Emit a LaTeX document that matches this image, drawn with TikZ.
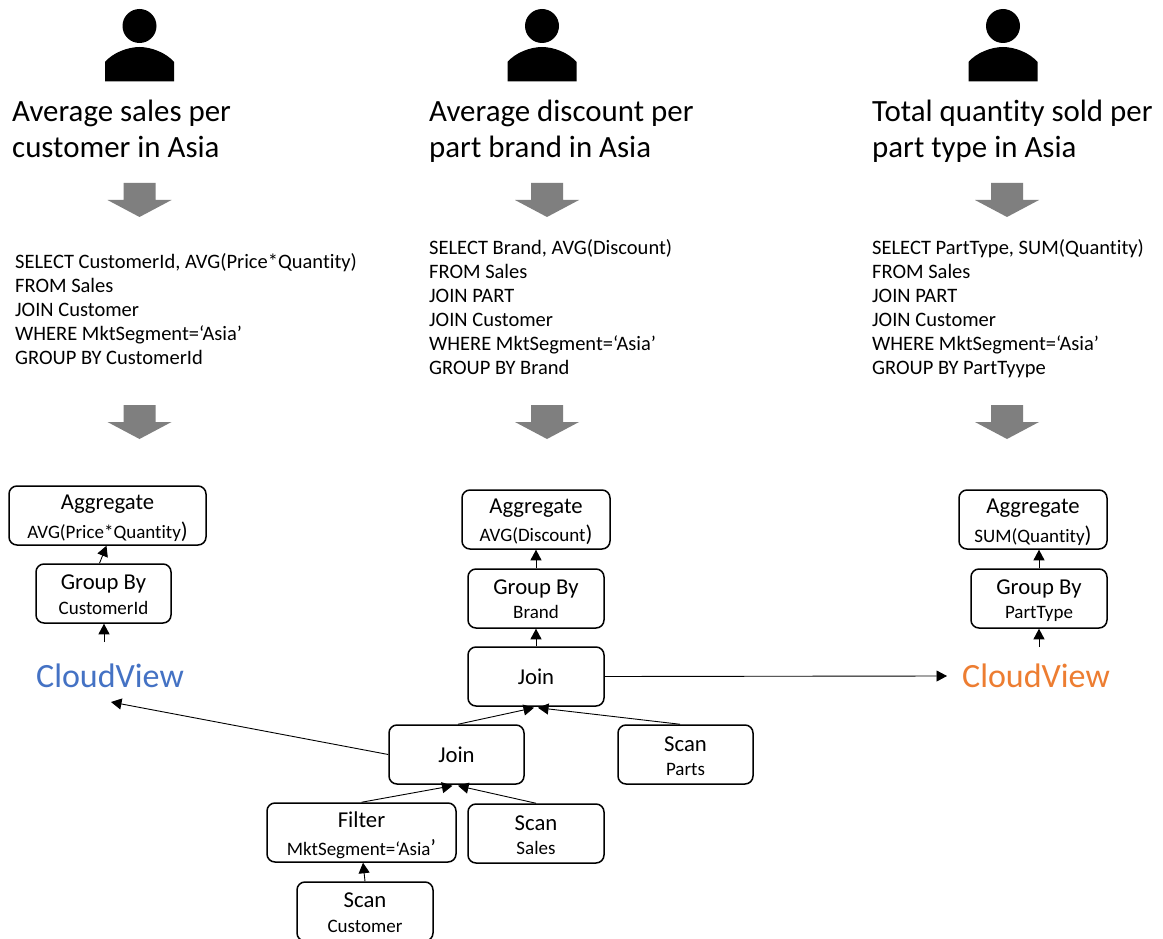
\documentclass[tikz,border=0pt]{standalone}
\usepackage{fontspec}
\setmainfont[Ligatures=NoCommon]{Carlito}
\usetikzlibrary{arrows.meta,calc}
\definecolor{cvblue}{HTML}{4472C4}
\definecolor{cvorange}{HTML}{ED7D31}
\definecolor{arrowgray}{HTML}{7F7F7F}
\newcommand{\mainf}{\fontsize{22.7}{25}\selectfont}
\newcommand{\subf}{\fontsize{19}{21}\selectfont}
% main line, sub line, raise of main baseline above box centre, gap between baselines
\newcommand{\two}[4]{\makebox[0pt]{\raisebox{#3}[0pt][0pt]{\makebox[0pt]{#1}}}\makebox[0pt]{\raisebox{\dimexpr#3-#4\relax}[0pt][0pt]{\makebox[0pt]{\subf #2}}}}
\tikzset{
  opbox/.style={draw=black,line width=1.5pt,rounded corners=8pt,minimum height=59pt,inner sep=0pt,text=black,font=\mainf},
  headline/.style={anchor=north west,inner sep=0pt,align=left,font=\fontsize{30.9}{36}\selectfont},
  sqltext/.style={anchor=north west,inner sep=0pt,align=left,font=\fontsize{20.5}{24}\selectfont},
  cv/.style={inner sep=0pt,font=\fontsize{34}{40}\selectfont},
  link/.style={line width=0.9pt,-{Triangle[length=10.5pt,width=11pt]}},
  person/.pic={
    \fill[black] (0,-57) circle[radius=17];
    \fill[black] (-34.5,-1.5) -- (-34.5,-21) .. controls (-27,-30) and (-12,-36) .. (0,-36) .. controls (12,-36) and (27,-30) .. (34.5,-21) -- (34.5,-1.5) -- cycle;
  },
  flow/.pic={
    \fill[arrowgray] (-16,0) -- (16,0) -- (16,17) -- (32,17) -- (0,34) -- (-32,17) -- (-16,17) -- cycle;
  }
}
\begin{document}
\begin{tikzpicture}[x=1pt,y=-1pt]
\useasboundingbox (0,0) rectangle (1163,939);
\fill[white] (0,0) rectangle (1163,939);
% persons
\pic at (139.5,83) {person};
\pic at (542,83) {person};
\pic at (1003,83) {person};
% headings
\node[headline] (h1) at (12,100) {Average sales per\\customer in Asia};
\node[headline] (h2) at (429,100) {Average discount per\\part brand in Asia};
\node[headline] (h3) at (872,100) {Total quantity sold per\\part type in Asia};
% flow arrows
\pic at (139.5,183) {flow};
\pic at (547,183) {flow};
\pic at (1007,183) {flow};
\pic at (139.5,405) {flow};
\pic at (547,405) {flow};
\pic at (1007,405) {flow};
% SQL
\node[sqltext] (q1) at (15,253) {SELECT CustomerId, AVG(Price*Quantity)\\FROM Sales\\JOIN Customer\\WHERE MktSegment=‘Asia’\\GROUP BY CustomerId};
\node[sqltext] (q2) at (429,239) {SELECT Brand, AVG(Discount)\\FROM Sales\\JOIN PART\\JOIN Customer\\WHERE MktSegment=‘Asia’\\GROUP BY Brand};
\node[sqltext] (q3) at (872,239) {SELECT PartType, SUM(Quantity)\\FROM Sales\\JOIN PART\\JOIN Customer\\WHERE MktSegment=‘Asia’\\GROUP BY PartTyype};
% operator boxes
\node[opbox,minimum width=197pt] (agg1) at (107.5,515.5) {\two{Aggregate}{AVG(Price*Quantity{\mainf )}}{6pt}{29pt}};
\node[opbox,minimum width=135pt] (grp1) at (103.5,593.5) {\two{Group By}{CustomerId}{4.5pt}{25pt}};
\node[opbox,minimum width=148pt] (agg2) at (536,519.5) {\two{Aggregate}{AVG(Discount{\mainf )}}{6.5pt}{28pt}};
\node[opbox,minimum width=136pt] (grp2) at (536,598.5) {\two{Group By}{Brand}{4pt}{24pt}};
\node[opbox,minimum width=148pt] (agg3) at (1033,519.5) {\two{Aggregate}{SUM(Quantity{\mainf )}}{6.5pt}{29pt}};
\node[opbox,minimum width=136pt] (grp3) at (1039,598.5) {\two{Group By}{PartType}{4pt}{24pt}};
\node[opbox,minimum width=136pt] (joina) at (536,676.5) {Join};
\node[opbox,minimum width=135pt] (joinb) at (456.5,754.5) {Join};
\node[opbox,minimum width=135pt] (parts) at (685.5,754.5) {\two{Scan}{Parts}{3.5pt}{24pt}};
\node[opbox,minimum width=189pt] (filter) at (361.5,832.5) {\two{Filter}{MktSegment=‘Asia{\mainf ’}}{5.5pt}{28pt}};
\node[opbox,minimum width=136pt] (sales) at (536,833.5) {\two{Scan}{Sales}{3.5pt}{24pt}};
\node[opbox,minimum width=136pt] (cust) at (365,911.5) {\two{Scan}{Customer}{4.5pt}{25pt}};
% CloudView labels
\node[cv,text=cvblue] (cv1) at (110,676) {CloudView};
\node[cv,text=cvorange] (cv2) at (1036,676) {CloudView};
\coordinate (cv1in) at (111,702);
\coordinate (cv2in) at (947,676);
\coordinate (cv1out) at (104,642);
\coordinate (cv2out) at (1039,647);
% connectors
\draw[link] ([xshift=-4pt]grp1.north) -- ([xshift=-1pt]agg1.south);
\draw[link] (cv1out) -- (cv1out |- grp1.south);
\draw[link] (grp2.north) -- (grp2.north |- agg2.south);
\draw[link] (joina.north) -- (grp2.south);
\draw[link] (grp3.north) -- (grp3.north |- agg3.south);
\draw[link] (cv2out) -- (cv2out |- grp3.south);
\draw[link] (joina.east) -- (cv2in);
\draw[link] (joinb.west) -- (cv1in);
\draw[link] ([xshift=1.5pt]joinb.north) -- ([xshift=-2pt,yshift=-1pt]joina.south);
\draw[link] ([xshift=-5.5pt]parts.north) -- ([xshift=2pt,yshift=-1pt]joina.south);
\draw[link] (filter.north) -- ([xshift=-4pt,yshift=-1pt]joinb.south);
\draw[link] (sales.north) -- ([xshift=1.5pt,yshift=-1pt]joinb.south);
\draw[link] (cust.north) -- ([xshift=1.5pt]filter.south);
\end{tikzpicture}
\end{document}
